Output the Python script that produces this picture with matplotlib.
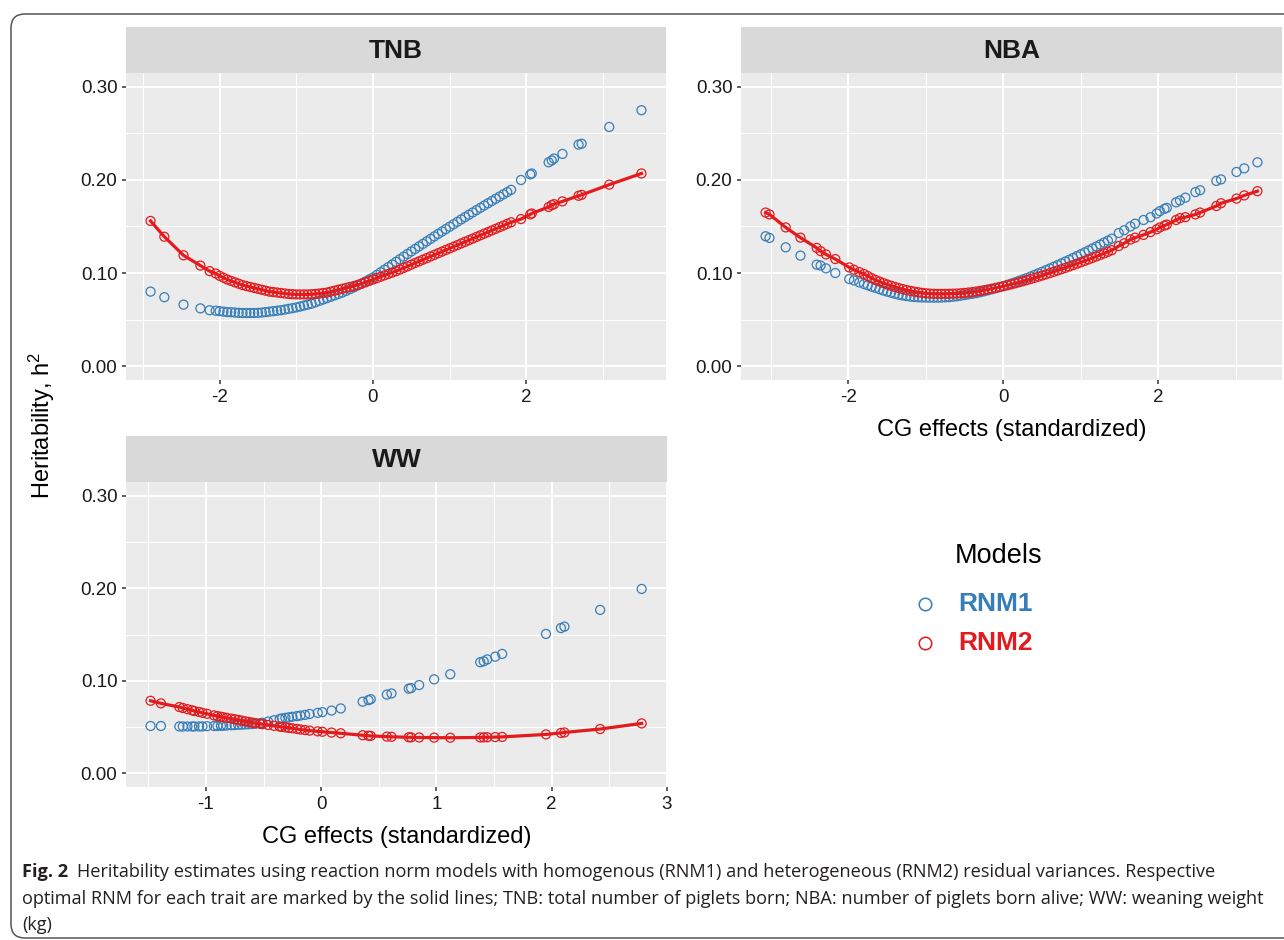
import matplotlib
matplotlib.use('Agg')
import matplotlib.pyplot as plt
from matplotlib.patches import FancyBboxPatch
import numpy as np

plt.rcParams['font.family'] = ['Liberation Sans', 'DejaVu Sans']
plt.rcParams['mathtext.default'] = 'regular'
plt.rcParams['axes.unicode_minus'] = False

W, H = 1284, 940
blue = '#377EB8'
red = '#E41A1C'

# TNB: CG effect levels and heritability for both models
tnb_cg = [-2.90, -2.72, -2.47, -2.25, -2.13,
          -2.05, -2.00, -1.95, -1.90, -1.85, -1.80, -1.75, -1.70, -1.65, -1.60,
          -1.55, -1.50, -1.45, -1.40, -1.35, -1.30, -1.25, -1.20, -1.15, -1.10,
          -1.05, -1.00, -0.95, -0.90, -0.85, -0.80, -0.75, -0.70, -0.65, -0.60,
          -0.55, -0.50, -0.45, -0.40, -0.35, -0.30, -0.25, -0.20, -0.15, -0.10,
          -0.05, 0.00, 0.05, 0.10, 0.15, 0.20, 0.25, 0.30, 0.35, 0.40,
          0.45, 0.50, 0.55, 0.60, 0.65, 0.70, 0.75, 0.80, 0.85, 0.90,
          0.95, 1.00, 1.05, 1.10, 1.15, 1.20, 1.25, 1.30, 1.35, 1.40,
          1.45, 1.50, 1.55, 1.60, 1.65, 1.70, 1.75, 1.80,
          1.93, 2.05, 2.07, 2.29, 2.33, 2.36, 2.47, 2.68, 2.72, 3.08, 3.50]
tnb_rnm1 = [0.0800, 0.0740, 0.0660, 0.0620, 0.0600,
            0.0595, 0.0590, 0.0585, 0.0580, 0.0578, 0.0575, 0.0572, 0.0570, 0.0570, 0.0570,
            0.0570, 0.0572, 0.0575, 0.0580, 0.0585, 0.0590, 0.0595, 0.0600, 0.0607, 0.0615,
            0.0622, 0.0630, 0.0640, 0.0650, 0.0660, 0.0670, 0.0685, 0.0700, 0.0715, 0.0730,
            0.0745, 0.0760, 0.0775, 0.0790, 0.0808, 0.0827, 0.0846, 0.0866, 0.0887, 0.0908,
            0.0930, 0.0952, 0.0980, 0.1008, 0.1036, 0.1064, 0.1092, 0.1120, 0.1148, 0.1176,
            0.1204, 0.1232, 0.1259, 0.1286, 0.1313, 0.1340, 0.1367, 0.1394, 0.1420, 0.1446,
            0.1472, 0.1498, 0.1524, 0.1550, 0.1576, 0.1601, 0.1626, 0.1651, 0.1676, 0.1701,
            0.1726, 0.1750, 0.1774, 0.1798, 0.1822, 0.1846, 0.1870, 0.1894,
            0.2000, 0.2060, 0.2070, 0.2190, 0.2210, 0.2230, 0.2280, 0.2380, 0.2390, 0.2570, 0.2750]
tnb_rnm2 = [0.1560, 0.1390, 0.1190, 0.1080, 0.1020,
            0.0995, 0.0970, 0.0950, 0.0930, 0.0915, 0.0900, 0.0885, 0.0870, 0.0860, 0.0850,
            0.0840, 0.0830, 0.0820, 0.0810, 0.0800, 0.0795, 0.0790, 0.0785, 0.0780, 0.0775,
            0.0772, 0.0770, 0.0770, 0.0770, 0.0770, 0.0772, 0.0775, 0.0780, 0.0785, 0.0790,
            0.0800, 0.0810, 0.0820, 0.0830, 0.0840, 0.0850, 0.0860, 0.0872, 0.0885, 0.0900,
            0.0915, 0.0930, 0.0945, 0.0960, 0.0975, 0.0990, 0.1005, 0.1020, 0.1037, 0.1055,
            0.1072, 0.1090, 0.1108, 0.1125, 0.1143, 0.1160, 0.1178, 0.1195, 0.1213, 0.1230,
            0.1248, 0.1265, 0.1283, 0.1300, 0.1318, 0.1335, 0.1353, 0.1370, 0.1388, 0.1405,
            0.1423, 0.1440, 0.1458, 0.1475, 0.1493, 0.1510, 0.1528, 0.1545,
            0.1580, 0.1630, 0.1640, 0.1710, 0.1730, 0.1740, 0.1770, 0.1830, 0.1840, 0.1950, 0.2070]

# NBA
nba_cg = [-3.07, -3.02, -2.81, -2.62, -2.41, -2.36, -2.29, -2.17, -1.99, -1.93, -1.86,
          -1.80, -1.75, -1.70, -1.65, -1.60, -1.55, -1.50, -1.45, -1.40, -1.35,
          -1.30, -1.25, -1.20, -1.15, -1.10, -1.05, -1.00, -0.95, -0.90, -0.85,
          -0.80, -0.75, -0.70, -0.65, -0.60, -0.55, -0.50, -0.45, -0.40, -0.35,
          -0.30, -0.25, -0.20, -0.15, -0.10, -0.05, 0.00, 0.05, 0.10, 0.15,
          0.20, 0.25, 0.30, 0.35, 0.40, 0.45, 0.50, 0.55, 0.60, 0.65,
          0.70, 0.75, 0.80, 0.85, 0.90, 0.95, 1.00, 1.05, 1.10, 1.15,
          1.20, 1.25, 1.30, 1.35, 1.40,
          1.49, 1.56, 1.64, 1.70, 1.81, 1.90, 1.98, 2.02, 2.08, 2.11,
          2.23, 2.28, 2.35, 2.48, 2.54, 2.75, 2.81, 3.01, 3.11, 3.28]
nba_rnm1 = [0.1395, 0.1377, 0.1276, 0.1187, 0.1090, 0.1080, 0.1050, 0.1000, 0.0935, 0.0920, 0.0899,
            0.0882, 0.0868, 0.0853, 0.0840, 0.0826, 0.0812, 0.0800, 0.0788, 0.0776, 0.0767,
            0.0759, 0.0752, 0.0746, 0.0742, 0.0739, 0.0737, 0.0736, 0.0735, 0.0735, 0.0735,
            0.0736, 0.0738, 0.0741, 0.0745, 0.0750, 0.0756, 0.0763, 0.0770, 0.0776, 0.0784,
            0.0793, 0.0803, 0.0814, 0.0825, 0.0836, 0.0848, 0.0860, 0.0873, 0.0886, 0.0900,
            0.0915, 0.0930, 0.0946, 0.0962, 0.0979, 0.0996, 0.1013, 0.1031, 0.1049, 0.1067,
            0.1085, 0.1104, 0.1123, 0.1142, 0.1162, 0.1182, 0.1202, 0.1222, 0.1243, 0.1264,
            0.1285, 0.1306, 0.1327, 0.1348, 0.1369,
            0.1430, 0.1460, 0.1500, 0.1530, 0.1570, 0.1600, 0.1640, 0.1665, 0.1690, 0.1700,
            0.1760, 0.1780, 0.1810, 0.1870, 0.1890, 0.1990, 0.2006, 0.2086, 0.2125, 0.2190]
nba_rnm2 = [0.1650, 0.1630, 0.1490, 0.1380, 0.1270, 0.1235, 0.1200, 0.1150, 0.1060, 0.1035, 0.1010,
            0.0990, 0.0968, 0.0945, 0.0925, 0.0908, 0.0892, 0.0877, 0.0863, 0.0850, 0.0838,
            0.0827, 0.0817, 0.0808, 0.0800, 0.0793, 0.0787, 0.0782, 0.0779, 0.0777, 0.0776,
            0.0776, 0.0776, 0.0777, 0.0778, 0.0780, 0.0782, 0.0786, 0.0790, 0.0795, 0.0801,
            0.0808, 0.0815, 0.0823, 0.0831, 0.0840, 0.0849, 0.0858, 0.0868, 0.0878, 0.0889,
            0.0900, 0.0911, 0.0923, 0.0935, 0.0947, 0.0960, 0.0973, 0.0986, 0.0999, 0.1013,
            0.1027, 0.1041, 0.1055, 0.1070, 0.1085, 0.1100, 0.1115, 0.1130, 0.1146, 0.1162,
            0.1178, 0.1194, 0.1211, 0.1228, 0.1245,
            0.1290, 0.1320, 0.1360, 0.1380, 0.1410, 0.1440, 0.1470, 0.1490, 0.1510, 0.1520,
            0.1570, 0.1590, 0.1600, 0.1630, 0.1650, 0.1720, 0.1750, 0.1800, 0.1834, 0.1880]

# WW
ww_cg = [-1.48, -1.39, -1.23, -1.20, -1.16, -1.12, -1.10, -1.06, -1.03, -0.99,
         -0.93, -0.90, -0.87, -0.85, -0.82, -0.78, -0.75, -0.72, -0.69, -0.66,
         -0.63, -0.60, -0.57, -0.53, -0.51, -0.46, -0.41, -0.36, -0.34, -0.31,
         -0.28, -0.25, -0.21, -0.18, -0.14, -0.10, -0.03, 0.01, 0.09, 0.17,
         0.36, 0.41, 0.43, 0.57, 0.61, 0.76, 0.78, 0.85, 0.98, 1.12,
         1.38, 1.41, 1.44, 1.51, 1.57, 1.95, 2.08, 2.11, 2.42, 2.78]
ww_rnm1 = [0.0510, 0.0510, 0.0505, 0.0505, 0.0505, 0.0505, 0.0505, 0.0505, 0.0505, 0.0508,
           0.0510, 0.0510, 0.0512, 0.0513, 0.0515, 0.0518, 0.0520, 0.0523, 0.0525, 0.0527,
           0.0529, 0.0531, 0.0535, 0.0540, 0.0545, 0.0558, 0.0572, 0.0586, 0.0592, 0.0598,
           0.0604, 0.0610, 0.0617, 0.0623, 0.0630, 0.0640, 0.0652, 0.0660, 0.0677, 0.0700,
           0.0773, 0.0790, 0.0800, 0.0850, 0.0862, 0.0914, 0.0920, 0.0953, 0.1015, 0.1070,
           0.1200, 0.1210, 0.1230, 0.1260, 0.1290, 0.1506, 0.1570, 0.1585, 0.1766, 0.1993]
ww_rnm2 = [0.0783, 0.0755, 0.0715, 0.0705, 0.0692, 0.0680, 0.0672, 0.0662, 0.0652, 0.0642,
           0.0625, 0.0617, 0.0610, 0.0605, 0.0598, 0.0590, 0.0583, 0.0576, 0.0568, 0.0561,
           0.0554, 0.0547, 0.0541, 0.0534, 0.0530, 0.0521, 0.0512, 0.0504, 0.0500, 0.0495,
           0.0490, 0.0485, 0.0478, 0.0472, 0.0466, 0.0460, 0.0452, 0.0448, 0.0439, 0.0431,
           0.0410, 0.0405, 0.0403, 0.0395, 0.0393, 0.0388, 0.0387, 0.0386, 0.0384, 0.0383,
           0.0386, 0.0387, 0.0388, 0.0390, 0.0392, 0.0419, 0.0435, 0.0440, 0.0477, 0.0538]

y_ticks = [0.0, 0.1, 0.2, 0.3]
y_labels = ['0.00', '0.10', '0.20', '0.30']

caption1 = ('Heritability estimates using reaction norm models with homogenous (RNM1) and '
            'heterogeneous (RNM2) residual variances. Respective')
caption2 = ('optimal RNM for each trait are marked by the solid lines; TNB: total number of '
            'piglets born; NBA: number of piglets born alive; WW: weaning weight')
caption3 = '(kg)'

fig = plt.figure(figsize=(W / 100, H / 100), dpi=100)
fig.patch.set_facecolor('white')

# full-figure layer in pixel units for frame, legend and caption
bg = fig.add_axes([0, 0, 1, 1], zorder=0)
bg.set_xlim(0, W)
bg.set_ylim(H, 0)
bg.axis('off')
bg.add_patch(FancyBboxPatch((11, 14), 1300, 924,
                            boxstyle='round,pad=0,rounding_size=14',
                            fc='none', ec='#555555', lw=1.1))


def facet(box, title, cg, h1, h2, major, minor, xlabel=None):
    x0, y0, x1, y1 = box
    strip = fig.add_axes([x0 / W, 1 - y0 / H, (x1 - x0) / W, 46 / H], zorder=2)
    strip.set_facecolor('#D9D9D9')
    strip.set_xticks([])
    strip.set_yticks([])
    for s in strip.spines.values():
        s.set_visible(False)
    strip.text(0.5, 0.47, title, ha='center', va='center', fontsize=19,
               fontweight='bold', color='#1A1A1A', transform=strip.transAxes)

    ax = fig.add_axes([x0 / W, 1 - y1 / H, (x1 - x0) / W, (y1 - y0) / H], zorder=2)
    ax.set_facecolor('#EBEBEB')
    for s in ax.spines.values():
        s.set_visible(False)
    ax.set_axisbelow(True)

    ax.scatter(cg, h1, s=42, facecolors='none', edgecolors=blue, linewidths=0.9, zorder=3)
    ax.scatter(cg, h2, s=42, facecolors='none', edgecolors=red, linewidths=0.9, zorder=4)
    order = np.argsort(cg)
    ax.plot(np.array(cg)[order], np.array(h2)[order], color=red, lw=2.3, zorder=5)

    lo, hi = min(cg), max(cg)
    pad = 0.05 * (hi - lo)
    ax.set_xlim(lo - pad, hi + pad)
    ax.set_ylim(-0.015, 0.315)
    ax.set_xticks(major)
    ax.set_xticks(minor, minor=True)
    ax.set_yticks(y_ticks)
    ax.set_yticklabels(y_labels)
    ax.set_yticks([0.05, 0.15, 0.25], minor=True)
    ax.grid(which='major', color='white', lw=1.5)
    ax.grid(which='minor', color='white', lw=0.75)
    ax.tick_params(which='major', length=3.2, width=1.1, color='#333333',
                   labelsize=13.5, labelcolor='#1A1A1A', pad=3)
    ax.tick_params(which='minor', length=0)
    if xlabel:
        ax.set_xlabel(xlabel, fontsize=17, color='black')
        ax.xaxis.label.set_va('center')
        ax.xaxis.set_label_coords(0.5, -50 / (y1 - y0))
    return ax


facet((126, 73, 666, 380), 'TNB', tnb_cg, tnb_rnm1, tnb_rnm2, [-2, 0, 2], [-3, -1, 1, 3])
facet((741, 73, 1282, 380), 'NBA', nba_cg, nba_rnm1, nba_rnm2, [-2, 0, 2], [-3, -1, 1, 3],
      xlabel='CG effects (standardized)')
facet((126, 482, 667, 787), 'WW', ww_cg, ww_rnm1, ww_rnm2, [-1, 0, 1, 2, 3],
      [-1.5, -0.5, 0.5, 1.5, 2.5], xlabel='CG effects (standardized)')

bg.text(42, 425, 'Heritability, h$^2$', rotation=90, ha='center', va='center',
        fontsize=17, color='black')

# legend
bg.text(999, 556, 'Models', ha='center', va='center', fontsize=19.5, color='black')
bg.plot([925], [604], 'o', mfc='none', mec=blue, ms=9, mew=1.1)
bg.plot([925], [643], 'o', mfc='none', mec=red, ms=9, mew=1.1)
bg.text(958, 604, 'RNM1', ha='left', va='center', fontsize=19, fontweight='bold', color=blue)
bg.text(958, 643, 'RNM2', ha='left', va='center', fontsize=19, fontweight='bold', color=red)

# caption, sized so the second line runs to the right margin
cap_font = ['Open Sans', 'DejaVu Sans']
r = fig.canvas.get_renderer()
probe = bg.text(0, 500, caption2, fontsize=12, family=cap_font)
cap_size = 12 * 1240 / probe.get_window_extent(r).width
probe.remove()

fig_lbl = bg.text(22, 877, 'Fig. 2', fontsize=cap_size, fontweight='bold',
                  family=cap_font, va='baseline', color='#231F20')
x_after = fig_lbl.get_window_extent(r).x1
bg.text(x_after + 9, 877, caption1, fontsize=cap_size, family=cap_font,
        va='baseline', color='#231F20')
bg.text(22, 903.5, caption2, fontsize=cap_size, family=cap_font, va='baseline', color='#231F20')
bg.text(22, 929.5, caption3, fontsize=cap_size, family=cap_font, va='baseline', color='#231F20')

fig.savefig('out.png', dpi=100)
